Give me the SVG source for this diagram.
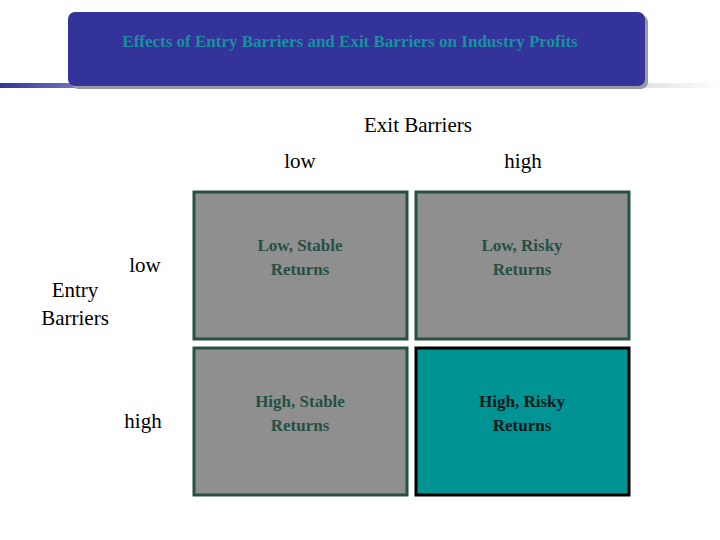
<svg xmlns="http://www.w3.org/2000/svg" width="720" height="540" viewBox="0 0 720 540">
<defs>
<linearGradient id="bar" x1="0" x2="1"><stop offset="0" stop-color="#333399"/><stop offset="1" stop-color="#7777bb"/></linearGradient>
<linearGradient id="bar2" x1="0" x2="1"><stop offset="0" stop-color="#e0e0e0"/><stop offset="1" stop-color="#ffffff"/></linearGradient>
<style>
.lbl{font-family:"Liberation Serif",serif;font-size:21px;fill:#000}
.cell{fill:#8f8f8f;stroke:#275045;stroke-width:3}
.ct{font-family:"Liberation Serif",serif;font-size:17px;font-weight:bold;fill:#275045;text-anchor:middle}
</style>
</defs>
<rect width="720" height="540" fill="#fff"/>
<g id="title">
<rect x="0" y="83" width="80" height="5" fill="url(#bar)"/>
<rect x="640" y="83" width="80" height="5" fill="url(#bar2)"/>
<rect x="71" y="15" width="577" height="74" rx="7" fill="#9a9aa6"/>
<rect x="68" y="12" width="577" height="74" rx="7" fill="#333399"/>
<text x="350" y="47" text-anchor="middle" font-family="Liberation Serif,serif" font-size="17" font-weight="bold" fill="#1a8f9f">Effects of Entry Barriers and Exit Barriers on Industry Profits</text>
</g>
<g id="labels">
<text class="lbl" x="418" y="132" text-anchor="middle">Exit Barriers</text>
<text class="lbl" x="300" y="168" text-anchor="middle">low</text>
<text class="lbl" x="523" y="168" text-anchor="middle">high</text>
<text class="lbl" x="145" y="272" text-anchor="middle">low</text>
<text class="lbl" x="143" y="428" text-anchor="middle">high</text>
<text class="lbl" x="75" y="297" text-anchor="middle">Entry</text>
<text class="lbl" x="75" y="325" text-anchor="middle">Barriers</text>
</g>
<g id="ll"><rect class="cell" x="194" y="192" width="213" height="147"/><text class="ct" x="300" y="251">Low, Stable</text><text class="ct" x="300" y="275">Returns</text></g>
<g id="lh"><rect class="cell" x="416" y="192" width="213" height="147"/><text class="ct" x="522" y="251">Low, Risky</text><text class="ct" x="522" y="275">Returns</text></g>
<g id="hl"><rect class="cell" x="194" y="348" width="213" height="147"/><text class="ct" x="300" y="407">High, Stable</text><text class="ct" x="300" y="431">Returns</text></g>
<g id="hh"><rect x="416" y="348" width="213" height="147" fill="#009393" stroke="#000" stroke-width="3"/><text class="ct" x="522" y="407" style="fill:#0a1a1a">High, Risky</text><text class="ct" x="522" y="431" style="fill:#0a1a1a">Returns</text></g>
<g id="connectors"/>
</svg>
